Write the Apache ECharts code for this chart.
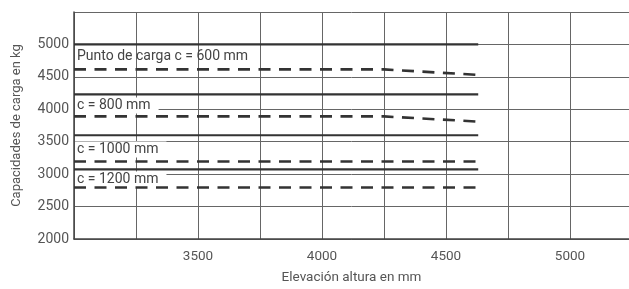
<!DOCTYPE html>
<html>
<head>
<meta charset="utf-8">
<script src="https://cdn.jsdelivr.net/npm/echarts@6/dist/echarts.min.js"></script>
<style>
  html, body { margin: 0; padding: 0; background: #fff; }
  #main { width: 629px; height: 289px; }
</style>
</head>
<body>
<div id="main"></div>
<script>
// elevation points (mm)
var elevation = [3000, 4250, 4630]
// capacities (kg), solid and dashed curves per load point
var solid600 = [5000, 5000, 5000]
var dashed600 = [4615, 4615, 4530]
var solid800 = [4230, 4230, 4230]
var dashed800 = [3890, 3890, 3810]
var solid1000 = [3600, 3600, 3600]
var dashed1000 = [3195, 3195, 3195]
var solid1200 = [3075, 3075, 3075]
var dashed1200 = [2795, 2795, 2795]
var curveLabels = ['Punto de carga c = 600 mm', 'c = 800 mm', 'c = 1000 mm', 'c = 1200 mm']

var font = 'Roboto'
var ink = '#333'

function pairs(ys) {
  return elevation.map(function (x, i) { return [x, ys[i]] })
}
function line(ys, dashed) {
  return {
    type: 'line',
    data: pairs(ys),
    showSymbol: false,
    silent: true,
    animation: false,
    lineStyle: {
      color: ink,
      width: dashed ? 2.6 : 2.2,
      type: dashed ? [12, 8.5] : 'solid'
    }
  }
}

var chart = echarts.init(document.getElementById('main'))
var option = {
  animation: false,
  grid: { left: 74, right: 0, top: 12, bottom: 50, outerBoundsMode: 'none' },
  xAxis: {
    type: 'value',
    min: 3000,
    max: 5238,
    interval: 250,
    name: 'Elevación altura en mm',
    nameLocation: 'middle',
    nameGap: 32,
    nameTextStyle: { color: '#555', fontSize: 13.5, fontFamily: font },
    axisLine: { lineStyle: { color: '#444', width: 1.5 } },
    axisTick: { show: false },
    axisLabel: {
      color: '#555', fontSize: 13.5, fontFamily: font, margin: 11,
      formatter: function (v) { return (v % 500 === 0 && v > 3000 && v <= 5000) ? v : '' }
    },
    splitLine: { lineStyle: { color: '#666', width: 1 } }
  },
  yAxis: {
    type: 'value',
    min: 2000,
    max: 5500,
    interval: 500,
    name: 'Capacidades de carga en kg',
    nameLocation: 'middle',
    nameGap: 51,
    nameTextStyle: { color: '#555', fontSize: 13, fontFamily: font },
    axisLine: { show: true, lineStyle: { color: '#444', width: 1.5 } },
    axisTick: { show: false },
    axisLabel: {
      color: '#555', fontSize: 14, fontFamily: font, margin: 5,
      formatter: function (v) { return v <= 5000 ? v : '' }
    },
    splitLine: { lineStyle: { color: '#666', width: 1 } }
  },
  series: [
    line(solid600), line(dashed600, true),
    line(solid800), line(dashed800, true),
    line(solid1000), line(dashed1000, true),
    line(solid1200), line(dashed1200, true)
  ]
}
chart.setOption(option)

// curve captions sit just above each dashed curve at the left edge
var dashedFirst = [dashed600[0], dashed800[0], dashed1000[0], dashed1200[0]]
var lift = [13, 11, 12, 8]
chart.setOption({
  graphic: curveLabels.map(function (t, i) {
    var p = chart.convertToPixel({ gridIndex: 0 }, [elevation[0], dashedFirst[i]])
    return {
      type: 'text',
      x: p[0] + 1,
      y: p[1] - lift[i],
      z: 1,
      style: {
        text: t,
        fill: '#444',
        font: '14px "' + font + '"',
        verticalAlign: 'middle',
        backgroundColor: i === 0 ? 'transparent' : '#fff',
        padding: [1, 8, 1, 2]
      }
    }
  })
})
</script>
</body>
</html>
